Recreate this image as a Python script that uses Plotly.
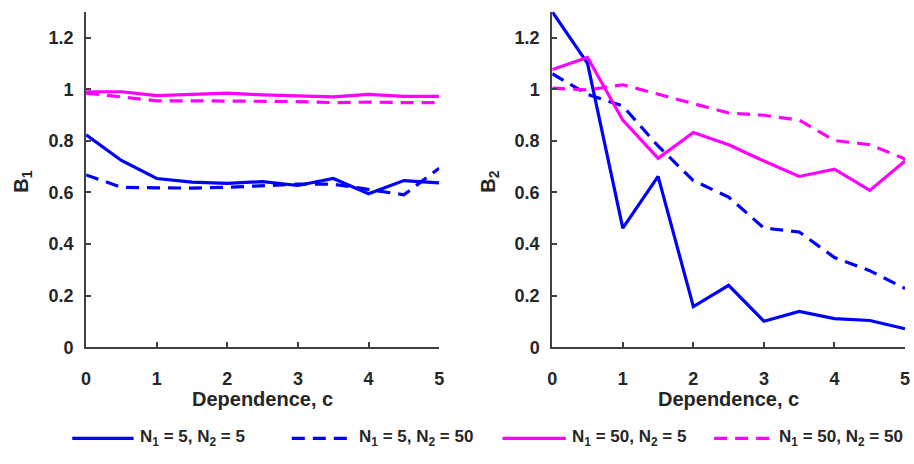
import plotly.graph_objects as go

# Dependence parameter c
c_values = [0, 0.5, 1, 1.5, 2, 2.5, 3, 3.5, 4, 4.5, 5]

# Panel B1
b1_n5_n5 = [0.823, 0.724, 0.654, 0.640, 0.635, 0.642, 0.627, 0.654, 0.595, 0.646, 0.637]
b1_n5_n50 = [0.668, 0.620, 0.618, 0.617, 0.620, 0.625, 0.632, 0.632, 0.612, 0.591, 0.694]
b1_n50_n5 = [0.990, 0.990, 0.975, 0.980, 0.985, 0.978, 0.975, 0.970, 0.980, 0.972, 0.972]
b1_n50_n50 = [0.985, 0.970, 0.955, 0.955, 0.955, 0.952, 0.952, 0.948, 0.950, 0.948, 0.948]

# Panel B2
b2_n5_n5 = [1.300, 1.100, 0.462, 0.662, 0.158, 0.240, 0.101, 0.139, 0.111, 0.104, 0.072]
b2_n5_n50 = [1.060, 0.980, 0.935, 0.780, 0.646, 0.582, 0.462, 0.447, 0.348, 0.297, 0.228]
b2_n50_n5 = [1.076, 1.123, 0.880, 0.732, 0.832, 0.785, 0.722, 0.662, 0.690, 0.608, 0.722]
b2_n50_n50 = [1.004, 0.997, 1.017, 0.981, 0.943, 0.908, 0.899, 0.880, 0.801, 0.785, 0.730]

series_names = [
    "N<sub>1</sub> = 5, N<sub>2</sub> = 5",
    "N<sub>1</sub> = 5, N<sub>2</sub> = 50",
    "N<sub>1</sub> = 50, N<sub>2</sub> = 5",
    "N<sub>1</sub> = 50, N<sub>2</sub> = 50",
]
series_colors = ["#0000FF", "#0000FF", "#FF00FF", "#FF00FF"]
DASH = "13px,8px"
series_dashes = ["solid", DASH, "solid", DASH]

panel_b1 = [b1_n5_n5, b1_n5_n50, b1_n50_n5, b1_n50_n50]
panel_b2 = [b2_n5_n5, b2_n5_n50, b2_n50_n5, b2_n50_n50]

W, H = 914, 464
FONT = "Liberation Sans, Arial, sans-serif"
TXT = "#262626"
AXC = "#404040"

fig = go.Figure()
for ax_idx, panel in ((1, panel_b1), (2, panel_b2)):
    for vals, name, col, dash in zip(panel, series_names, series_colors, series_dashes):
        fig.add_trace(go.Scatter(
            x=c_values, y=vals, mode="lines", name=name, showlegend=False,
            line=dict(color=col, width=3.2, dash=dash),
            xaxis="x" if ax_idx == 1 else "x2",
            yaxis="y" if ax_idx == 1 else "y2",
            cliponaxis=True,
        ))

def px_x(p):
    return p / W

def px_y(p):
    return 1 - p / H

y_dom = [px_y(355), px_y(12)]

axis_common = dict(
    showline=True, linecolor=AXC, linewidth=2,
    ticks="inside", ticklen=5, tickwidth=1.5, tickcolor=AXC,
    showgrid=False, zeroline=False,
    tickfont=dict(family=FONT, size=18, color=TXT, weight="bold"),
    mirror=False,
)

fig.update_layout(
    width=W, height=H,
    margin=dict(l=0, r=0, t=0, b=0),
    paper_bgcolor="white", plot_bgcolor="white",
    showlegend=False,
    xaxis=dict(domain=[px_x(82), px_x(439)], range=[0, 5], tickvals=[0, 1, 2, 3, 4, 5],
               anchor="y", ticklabelstandoff=14, **axis_common),
    yaxis=dict(domain=y_dom, range=[0, 1.3], tickvals=[0, 0.2, 0.4, 0.6, 0.8, 1, 1.2],
               anchor="x", ticklabelstandoff=7, **axis_common),
    xaxis2=dict(domain=[px_x(553.3), px_x(910)], range=[0, 5], tickvals=[0, 1, 2, 3, 4, 5],
                anchor="y2", ticklabelstandoff=14, **axis_common),
    yaxis2=dict(domain=y_dom, range=[0, 1.3], tickvals=[0, 0.2, 0.4, 0.6, 0.8, 1, 1.2],
                anchor="x2", ticklabelstandoff=7, **axis_common),
)

title_font = dict(family=FONT, size=20, color=TXT, weight="bold")

# Axis titles
for cx in ((82 + 439) / 2, (553.3 + 910) / 2):
    fig.add_annotation(x=px_x(cx), y=px_y(408), xref="paper", yref="paper",
                       text="Dependence, c", showarrow=False, font=title_font,
                       xanchor="center", yanchor="middle")
for cx, label in ((18, "B<sub>1</sub>"), (490, "B<sub>2</sub>")):
    fig.add_annotation(x=px_x(cx), y=px_y(186), xref="paper", yref="paper",
                       text=label, showarrow=False, font=title_font, textangle=-90,
                       xanchor="center", yanchor="middle")

# Legend row below the panels
legend_y = 448
legend_slots = [(68, 130), (290, 352), (503, 567), (717, 777)]
for (x0, x1), name, col, dash in zip(legend_slots, series_names, series_colors, series_dashes):
    fig.add_shape(type="line", xref="paper", yref="paper",
                  x0=px_x(x0), x1=px_x(x1), y0=px_y(legend_y), y1=px_y(legend_y),
                  line=dict(color=col, width=3.2, dash=dash))
    fig.add_annotation(x=px_x(x1 + 4), y=px_y(legend_y), xref="paper", yref="paper",
                       text=name, showarrow=False, xanchor="left", yanchor="middle",
                       font=dict(family=FONT, size=17, color=TXT, weight="bold"))

fig.write_html("out.html")
